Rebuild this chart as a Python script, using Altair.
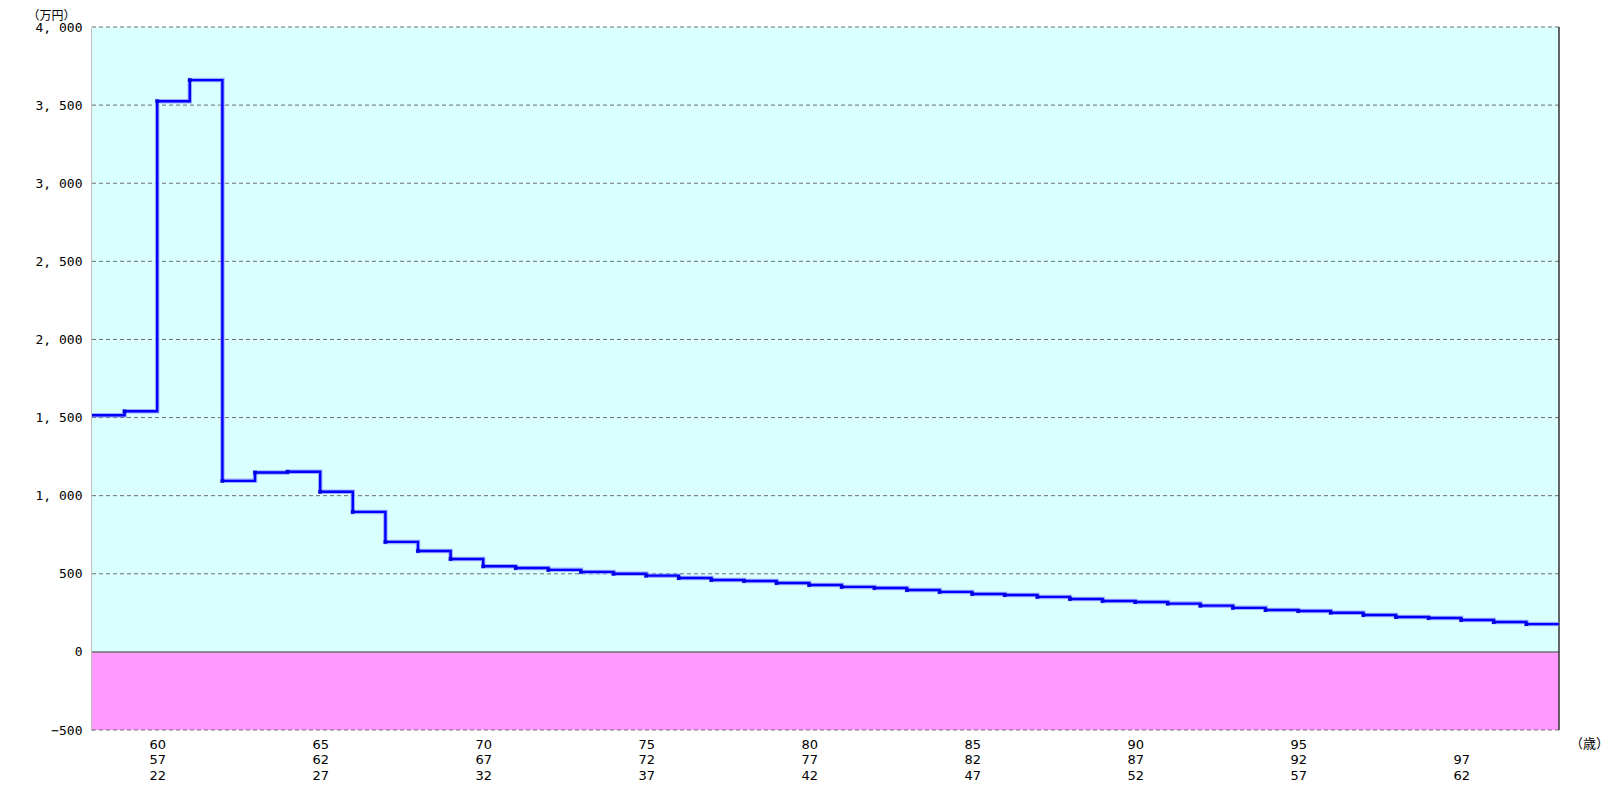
import altair as alt
import pandas as pd

# ---- data ----
ages = list(range(58, 103))
values = [1515, 1540, 3525, 3660, 1095, 1148, 1153, 1025, 896, 704,
          646, 595, 548, 537, 525, 512, 500, 488, 473, 460,
          454, 441, 428, 416, 409, 396, 384, 371, 364, 352,
          339, 326, 319, 309, 296, 282, 268, 262, 251, 236,
          223, 217, 204, 191, 178]

tick_ages = [60, 65, 70, 75, 80, 85, 90, 95, 100]
row1 = ["60", "65", "70", "75", "80", "85", "90", "95", ""]
row2 = ["57", "62", "67", "72", "77", "82", "87", "92", "97"]
row3 = ["22", "27", "32", "37", "42", "47", "52", "57", "62"]

y_ticks = [-500, 0, 500, 1000, 1500, 2000, 2500, 3000, 3500, 4000]
grid_dashed = [-500, 500, 1000, 1500, 2000, 2500, 3000, 3500, 4000]

x_min, x_max = ages[0], ages[-1] + 1
y_min, y_max = -500, 4000

# ---- frames ----
line_df = pd.DataFrame({"age": ages + [x_max], "value": values + [values[-1]]})
pts_df = pd.DataFrame({"age": ages[1:], "value": values[1:]})
bands_df = pd.DataFrame({"x": [x_min, x_min], "x2": [x_max, x_max],
                         "lo": [0, y_min], "hi": [y_max, 0],
                         "band": ["pos", "neg"]})
grid_df = pd.DataFrame({"v": grid_dashed})

# label expression for 3-row x labels
parts = []
for t, a, b, c in zip(tick_ages, row1, row2, row3):
    parts.append(f"datum.value == {t} ? ['{a}', '{b}', '{c}']")
label_expr = " : ".join(parts) + " : ''"

xscale = alt.Scale(domain=[x_min, x_max], nice=False, zero=False)
yscale = alt.Scale(domain=[y_min, y_max], nice=False, zero=False)

x_axis = alt.Axis(values=tick_ages, labelExpr=label_expr, ticks=False, domain=False,
                  grid=False, labelFont="DejaVu Sans", labelFontSize=13,
                  labelLineHeight=15.5, labelPadding=8, labelColor="#000000",
                  labelFlush=False, labelOverlap=False,
                  title="（歳）", titleX=1497, titleY=13, titleAlign="center",
                  titleBaseline="middle", titleFont="Noto Sans CJK JP",
                  titleFontSize=13, titleFontWeight="normal", titleColor="#000000")
y_axis = alt.Axis(values=y_ticks,
                  labelExpr="replace(format(datum.value, ','), ',', ', ')",
                  ticks=False, domain=True, domainColor="#000000", domainWidth=1.5,
                  grid=False, labelFont="DejaVu Sans Mono", labelFontSize=13,
                  labelPadding=10, labelColor="#000000",
                  title="（万円）", titleAngle=0, titleX=-41, titleY=-12,
                  titleAlign="center", titleBaseline="middle",
                  titleFont="Noto Sans CJK JP", titleFontSize=12,
                  titleFontWeight="normal", titleColor="#000000")

bands = alt.Chart(bands_df).mark_rect().encode(
    x=alt.X("x:Q", scale=xscale, axis=x_axis),
    x2="x2",
    y=alt.Y("lo:Q", scale=yscale, axis=y_axis),
    y2="hi",
    color=alt.Color("band:N", scale=alt.Scale(domain=["pos", "neg"],
                                              range=["#DAFFFF", "#FF99FF"]),
                    legend=None),
)

grid = alt.Chart(grid_df).mark_rule(color="#6e6e6e", strokeDash=[4, 3], strokeWidth=1).encode(
    y=alt.Y("v:Q", scale=yscale)
)

zero = alt.Chart(pd.DataFrame({"v": [0]})).mark_rule(color="#707070", strokeWidth=1.5).encode(
    y=alt.Y("v:Q", scale=yscale)
)

right_border = alt.Chart(pd.DataFrame({"x": [x_max], "lo": [y_min], "hi": [y_max]})).mark_rule(
    color="#333333", strokeWidth=1.5).encode(
    x=alt.X("x:Q", scale=xscale), y=alt.Y("lo:Q", scale=yscale), y2="hi"
)

halo = alt.Chart(line_df).mark_line(interpolate="step-after", color="#8888ff",
                                    strokeWidth=4.5, opacity=0.7).encode(
    x=alt.X("age:Q", scale=xscale), y=alt.Y("value:Q", scale=yscale)
)
line = alt.Chart(line_df).mark_line(interpolate="step-after", color="#0000ff",
                                    strokeWidth=2.4).encode(
    x=alt.X("age:Q", scale=xscale), y=alt.Y("value:Q", scale=yscale)
)
pts = alt.Chart(pts_df).mark_point(shape="square", filled=True, size=14,
                                   color="#0000dd", opacity=1).encode(
    x=alt.X("age:Q", scale=xscale), y=alt.Y("value:Q", scale=yscale)
)

chart = alt.layer(bands, grid, zero, right_border, halo, line, pts).properties(
    width=1467, height=703,
    autosize=alt.AutoSizeParams(type="none"),
    padding={"left": 84, "top": 19, "right": 50, "bottom": 55},
    background="#ffffff",
).configure_view(stroke=None)

chart.save("out.html", embed_options={"renderer": "svg", "actions": False})
